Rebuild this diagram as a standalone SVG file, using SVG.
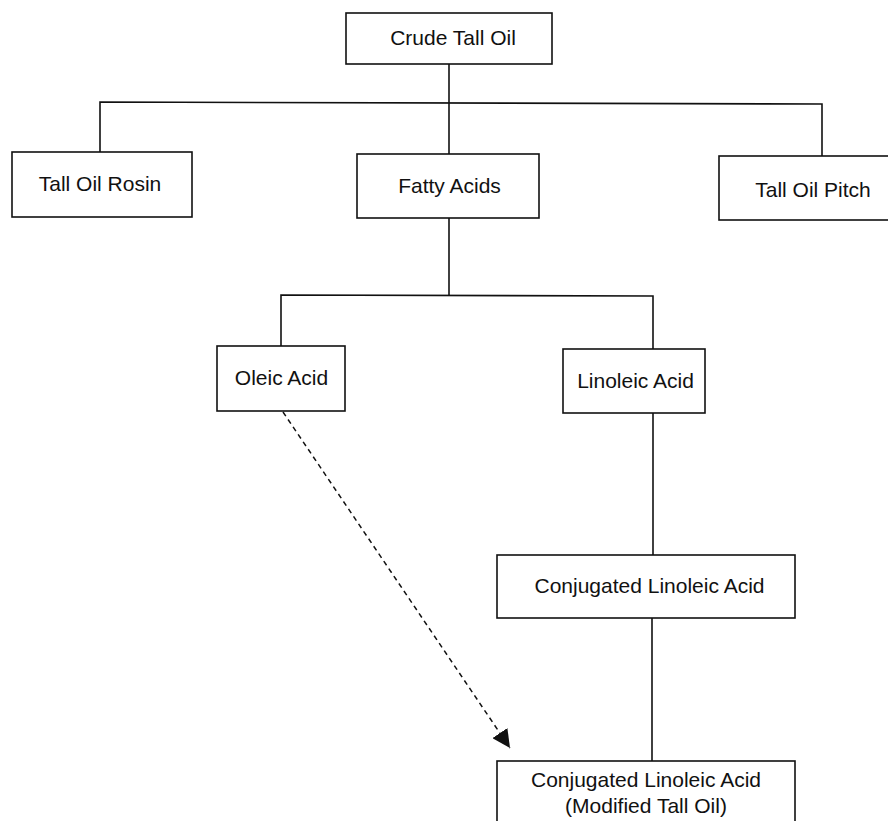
<svg xmlns="http://www.w3.org/2000/svg" width="888" height="821" viewBox="0 0 888 821">
<style>
.box{fill:#fff;stroke:#111;stroke-width:1.6}
.lbl{font-family:"Liberation Sans",Arial,sans-serif;font-size:21px;fill:#111;text-anchor:middle}
.ln{fill:none;stroke:#111;stroke-width:1.6}
.dash{fill:none;stroke:#111;stroke-width:1.5;stroke-dasharray:5 4}
</style>
<defs>
<marker id="ah" viewBox="0 0 10 10" refX="10" refY="5" markerWidth="18" markerHeight="18" markerUnits="userSpaceOnUse" orient="auto">
<path d="M0,0 L10,5 L0,10 z" fill="#111"/>
</marker>
</defs>
<rect width="888" height="821" fill="#fff"/>
<g id="connectors">
<polyline class="ln" points="449,64 449,154"/>
<polyline class="ln" points="100,152 100,102 822,104 822,156"/>
<polyline class="ln" points="449,218 449,296"/>
<polyline class="ln" points="281,346 281,295 653,296 653,349"/>
<polyline class="ln" points="653,413 653,555"/>
<polyline class="ln" points="652,618 652,761"/>
<line class="dash" x1="283" y1="412" x2="510" y2="748" marker-end="url(#ah)"/>
</g>
<g id="crude"><rect class="box" x="346" y="13" width="206" height="51"/><text class="lbl" x="453" y="45">Crude Tall Oil</text></g>
<g id="rosin"><rect class="box" x="12" y="152" width="180" height="65"/><text class="lbl" x="100" y="191">Tall Oil Rosin</text></g>
<g id="fatty"><rect class="box" x="357" y="154" width="182" height="64"/><text class="lbl" x="449.5" y="193">Fatty Acids</text></g>
<g id="pitch"><rect class="box" x="719" y="156" width="175" height="64"/><text class="lbl" x="813" y="197">Tall Oil Pitch</text></g>
<g id="oleic"><rect class="box" x="217" y="346" width="128" height="65"/><text class="lbl" x="281.5" y="385">Oleic Acid</text></g>
<g id="linoleic"><rect class="box" x="563" y="349" width="142" height="64"/><text class="lbl" x="635.5" y="388">Linoleic Acid</text></g>
<g id="cla"><rect class="box" x="497" y="555" width="298" height="63"/><text class="lbl" x="649.5" y="593">Conjugated Linoleic Acid</text></g>
<g id="cla-mto"><rect class="box" x="497" y="761" width="298" height="70"/><text class="lbl" x="646" y="787">Conjugated Linoleic Acid</text><text class="lbl" x="646" y="813">(Modified Tall Oil)</text></g>
</svg>
